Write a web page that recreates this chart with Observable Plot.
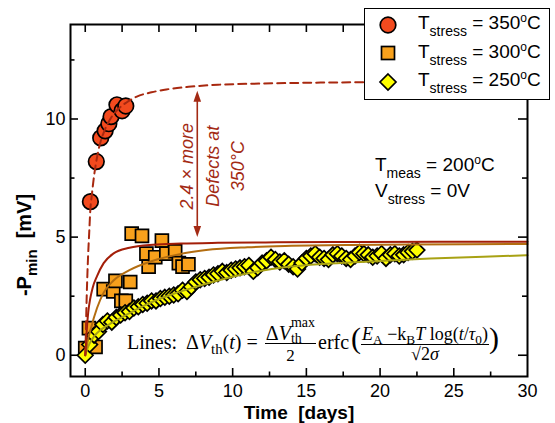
<!DOCTYPE html>
<html>
<head>
<meta charset="utf-8">
<script src="https://cdn.jsdelivr.net/npm/d3@7"></script>
<script src="https://cdn.jsdelivr.net/npm/@observablehq/plot@0.6"></script>
<style>
  body { margin: 0; background: #fff; }
  #wrap { position: relative; width: 555px; height: 423px; font-family: "Liberation Sans", Arial, sans-serif; }
  .ov { position: absolute; white-space: nowrap; color: #000; }
  .txt { font-size: 19px; line-height: 22px; }
  .lsub { font-size: 14px; position: relative; top: 7px; }
  .lsup { font-size: 12px; position: relative; top: -7px; }
  #legendbox { position: absolute; left: 364px; top: 8px; width: 186px; height: 92px; box-sizing: border-box; border: 1.5px solid #000; background: #fff; }
  .sw { position: absolute; width: 20px; height: 20px; }
  #ylab { position: absolute; left: 25px; top: 245px; transform: translate(-50%, -50%) rotate(-90deg); font-weight: bold; font-size: 20px; line-height: 22px; white-space: nowrap; }
  #formula { position: absolute; left: 127px; top: 324px; font-family: "Liberation Serif", "Times New Roman", serif; font-size: 20px; line-height: 20px; white-space: nowrap; }
  #formula .sb { font-size: 0.74em; position: relative; top: 0.3em; }
  #formula .frac { display: inline-block; vertical-align: middle; text-align: center; }
  #formula .num { display: block; border-bottom: 1.5px solid #000; line-height: 19px; height: 19px; padding: 0 1px; }
  #formula .den { display: block; line-height: 19px; height: 19px; }
  #formula .f1 .num { font-size: 20px; }
  #formula .f1 .den { font-size: 17px; padding-top: 2px; }
  #formula .f2 .num { font-size: 18px; }
  #formula .f2 .den { font-size: 18px; }
  #formula .sup2 { font-size: 0.7em; position: relative; top: -0.9em; }
  #formula .sub2 { font-size: 0.7em; position: relative; top: 0.2em; margin-left: -1.722em; margin-right: 0.944em; }
  #formula .par { font-size: 30px; position: relative; top: -1px; }
  #formula .gap { display: inline-block; }
</style>
</head>
<body>
<div id="wrap"></div>
<script>
// ---- Data ----
// T_stress = 350 °C (circles)
const c350_t = [0.35, 0.75, 1.05, 1.35, 1.6, 1.75, 2.15, 2.5, 2.75];
const c350_v = [6.5, 8.2, 9.2, 9.5, 9.8, 10.1, 10.6, 10.35, 10.55];
// T_stress = 300 °C (squares)
const s300_t = [0, 0.25, 0.7, 1.25, 1.9, 2.05, 2.45, 2.75, 3.05, 3.15, 3.85, 4.15, 4.3, 4.75, 5.2, 5.5, 6.1, 6.35, 6.6, 7.0];
const s300_v = [0.3, 1.15, 0.35, 2.8, 2.7, 3.15, 2.3, 2.3, 3.1, 5.15, 5.05, 4.3, 3.75, 4.15, 4.85, 4.3, 4.4, 3.9, 3.75, 3.85];
// T_stress = 250 °C (diamonds)
const d250_t = [0, 0.3, 0.6, 0.9, 1.2, 1.5, 1.8, 2.1, 2.4, 2.7, 3.0, 3.3, 3.6, 3.9, 4.2, 4.5, 4.8, 5.1, 5.4, 5.7,
  6.0, 6.3, 6.6, 6.9, 7.2, 7.5, 7.8, 8.1, 8.4, 8.7, 9.0, 9.3, 9.6, 9.9, 10.2, 10.5, 10.8, 11.1, 11.4, 11.7,
  12.0, 12.3, 12.6, 12.9, 13.2, 13.5, 13.8, 14.1, 14.4, 14.7, 15.0, 15.3, 15.6, 15.9, 16.2, 16.5, 16.8, 17.1, 17.4, 17.7,
  18.0, 18.3, 18.6, 18.9, 19.2, 19.5, 19.8, 20.1, 20.4, 20.7, 21.0, 21.3, 21.6, 21.9, 22.2, 22.5];
const d250_v = [0, 0.45, 0.85, 1.0, 1.3, 1.45, 1.4, 1.6, 1.7, 1.8, 1.85, 2.0, 2.05, 2.15, 2.2, 2.3, 2.3, 2.4, 2.45, 2.5,
  2.55, 2.6, 2.75, 2.7, 2.9, 3.1, 3.2, 3.25, 3.3, 3.4, 3.45, 3.55, 3.5, 3.6, 3.65, 3.7, 3.75, 3.8, 3.55, 3.7,
  3.9, 4.0, 4.15, 4.05, 3.95, 4.0, 3.85, 3.75, 3.65, 3.9, 4.1, 4.2, 4.3, 4.15, 4.1, 4.05, 4.25, 4.3, 4.2, 4.1,
  4.05, 4.2, 4.35, 4.3, 4.25, 4.15, 4.2, 4.3, 4.1, 4.25, 4.3, 4.2, 4.25, 4.35, 4.4, 4.45];
// Fit lines
const fit350_t = [0, 0.02, 0.05, 0.1, 0.15, 0.2, 0.27, 0.35, 0.45, 0.6, 0.75, 1, 1.3, 1.7, 2.2, 2.8, 3.5, 4.5, 5.5, 7, 9, 12, 16, 20, 25, 30];
const fit350_v = [0, 0.35, 1.2, 2.5, 3.5, 4.3, 5.2, 6.2, 6.8, 7.6, 8.2, 8.95, 9.5, 10.0, 10.4, 10.7, 10.95, 11.13, 11.25, 11.36, 11.45, 11.5, 11.54, 11.56, 11.58, 11.59];
const scaled_t = [0, 0.02, 0.05, 0.1, 0.2, 0.34, 0.5, 0.8, 1.25, 1.9, 3, 4.6, 6.5, 9, 13, 18, 24, 30];
const scaled_v = [0, 0.15, 0.5, 1.05, 1.8, 2.4, 2.85, 3.35, 3.9, 4.3, 4.55, 4.68, 4.73, 4.76, 4.78, 4.79, 4.8, 4.8];
const fit300_t = [0, 0.05, 0.15, 0.35, 0.8, 1.25, 1.9, 3, 4.6, 6.4, 8.2, 11, 14, 18, 22, 26, 30];
const fit300_v = [0, 0.2, 0.55, 1.06, 2.0, 2.65, 3.15, 3.6, 4.0, 4.28, 4.45, 4.57, 4.63, 4.67, 4.69, 4.7, 4.71];
const fit250_t = [0, 0.1, 0.3, 0.6, 1, 1.6, 2.4, 3.2, 4, 5, 6, 7.1, 8.5, 10.5, 13.5, 16.6, 20, 23.4, 27, 30];
const fit250_v = [0, 0.2, 0.5, 0.8, 1.05, 1.3, 1.58, 1.85, 2.1, 2.38, 2.6, 2.82, 3.08, 3.4, 3.72, 3.88, 3.99, 4.09, 4.17, 4.23];
// Axis ticks
const xMajor = [0, 5, 10, 15, 20, 25];
const xMinor = [2.5, 7.5, 12.5, 17.5, 22.5, 27.5];
const xLabels = [0, 5, 10, 15, 20, 25, 30];
const yMajor = [0, 5, 10];
const yMinor = [2.5, 7.5, 12.5];
// Annotation
const arrowX = [7.6];
const arrowY = [5.0, 11.2];
const noteText = ["2.4 \u00d7 more\nDefects at\n350\u00b0C"];

// ---- Colors ----
const cCircle = "#f24a1e", cSquare = "#f8a11c", cDiamond = "#ffff00";
const cDash = "#a8280f", cRed = "#a31e08", cBrown = "#b36d10", cOlive = "#a8a214", cNote = "#a32a14";

const W = 555, H = 423, mL = 70, mR = 28, mT = 24, mB = 47;
const fw = W - mL - mR, fh = H - mT - mB;

const diamond = { draw(ctx, size) { const h = Math.sqrt(size / Math.PI); ctx.moveTo(0, -h); ctx.lineTo(h, 0); ctx.lineTo(0, h); ctx.lineTo(-h, 0); ctx.closePath(); } };
const headUp = { draw(ctx) { ctx.moveTo(0, 0); ctx.lineTo(-3.8, 11); ctx.lineTo(3.8, 11); ctx.closePath(); } };
const headDown = { draw(ctx) { ctx.moveTo(0, 0); ctx.lineTo(-3.8, -11); ctx.lineTo(3.8, -11); ctx.closePath(); } };

const chart = Plot.plot({
  width: W, height: H,
  marginLeft: mL, marginRight: mR, marginTop: mT, marginBottom: mB,
  x: { domain: [-1, 30] },
  y: { domain: [-0.9, 14] },
  style: { fontFamily: "'Liberation Sans', Arial, sans-serif", fontSize: "18px", color: "#000", background: "#fff" },
  marks: [
    Plot.axisX(xLabels, { anchor: "bottom", tickSize: 0, tickPadding: 8, label: null }),
    Plot.axisY(yMajor, { anchor: "left", tickSize: 0, tickPadding: 5, label: null }),
    // ticks (inward)
    Plot.tickX(xMajor, { x: d => d, insetTop: fh - 8, stroke: "#000", strokeWidth: 1.6 }),
    Plot.tickX(xMinor, { x: d => d, insetTop: fh - 4.5, stroke: "#000", strokeWidth: 1.6 }),
    Plot.tickX(xMajor.concat(xMinor), { x: d => d, insetBottom: fh - 8, stroke: "#000", strokeWidth: 1.6 }),
    Plot.tickY(yMajor, { y: d => d, insetRight: fw - 8, stroke: "#000", strokeWidth: 1.6 }),
    Plot.tickY(yMinor, { y: d => d, insetRight: fw - 4.5, stroke: "#000", strokeWidth: 1.6 }),
    Plot.tickY(yMajor, { y: d => d, insetLeft: fw - 9, stroke: "#000", strokeWidth: 1.6 }),
    Plot.tickY(yMinor, { y: d => d, insetLeft: fw - 5, stroke: "#000", strokeWidth: 1.6 }),
    // data
    Plot.dot(s300_t, { x: s300_t, y: s300_v, symbol: "square", r: 7.3, fill: cSquare, stroke: "#000", strokeWidth: 1.7 }),
    Plot.dot(d250_t, { x: d250_t, y: d250_v, symbol: diamond, r: 7.8, fill: cDiamond, stroke: "#000", strokeWidth: 1.7 }),
    Plot.dot(c350_t, { x: c350_t, y: c350_v, r: 7.8, fill: cCircle, stroke: "#000", strokeWidth: 1.7 }),
    // fits
    Plot.line(fit250_t, { x: fit250_t, y: fit250_v, stroke: cOlive, strokeWidth: 2, curve: "monotone-x" }),
    Plot.line(fit300_t, { x: fit300_t, y: fit300_v, stroke: cBrown, strokeWidth: 2, curve: "monotone-x" }),
    Plot.line(scaled_t, { x: scaled_t, y: scaled_v, stroke: cRed, strokeWidth: 2, curve: "monotone-x" }),
    Plot.line(fit350_t, { x: fit350_t, y: fit350_v, stroke: cDash, strokeWidth: 2, strokeDasharray: "8,5", curve: "monotone-x" }),
    // annotation arrow
    Plot.ruleX(arrowX, { x: d => d, y1: arrowY[0] + 0.2, y2: arrowY[1] - 0.2, stroke: cNote, strokeWidth: 1.6 }),
    Plot.dot(arrowX, { x: d => d, y: arrowY[1], symbol: headUp, fill: cNote, stroke: "none" }),
    Plot.dot(arrowX, { x: d => d, y: arrowY[0], symbol: headDown, fill: cNote, stroke: "none" }),
    Plot.text(noteText, { x: 8.5, y: 8.0, text: d => d, rotate: -90, fill: cNote, fontSize: 18, fontStyle: "italic", lineHeight: 1.4, textAnchor: "middle", lineAnchor: "middle" }),
    // x label
    Plot.text(["Time\u00a0\u00a0[days]"], { frameAnchor: "bottom", text: d => d, dy: 36, fontWeight: "bold", fontSize: 19, lineAnchor: "middle" }),
    Plot.frame({ stroke: "#000", strokeWidth: 2 })
  ]
});

const wrap = document.getElementById("wrap");
wrap.appendChild(chart);

function addHTML(html) { wrap.insertAdjacentHTML("beforeend", html); }

// y label
addHTML(`<div id="ylab">-P<span class="lsub" style="font-size:15px;top:6px">min</span>&nbsp;&nbsp;[mV]</div>`);

// measurement conditions
addHTML(`<div class="ov txt" style="left:375px;top:154px">T<span class="lsub">meas</span> = 200<span class="lsup">o</span>C</div>`);
addHTML(`<div class="ov txt" style="left:375px;top:180px">V<span class="lsub">stress</span> = 0V</div>`);

// legend
const legendRows = [
  { label: "350", shape: `<circle cx="10" cy="10" r="7.8" fill="${cCircle}" stroke="#000" stroke-width="1.7"/>` },
  { label: "300", shape: `<rect x="3.5" y="3.5" width="13" height="13" fill="${cSquare}" stroke="#000" stroke-width="1.7"/>` },
  { label: "250", shape: `<path d="M10,2L18,10L10,18L2,10Z" fill="${cDiamond}" stroke="#000" stroke-width="1.7"/>` }
];
addHTML(`<div id="legendbox"></div>`);
legendRows.forEach((r, i) => {
  const cy = 25 + i * 28.3;
  const base = 30 + i * 28.3;
  addHTML(`<svg class="sw" style="left:${388 - 10}px;top:${cy - 10}px" width="20" height="20">${r.shape}</svg>`);
  addHTML(`<div class="ov txt" style="left:418px;top:${base - 17.6}px">T<span class="lsub">stress</span> = ${r.label}<span class="lsup">o</span>C</div>`);
});

// formula
addHTML(`<div id="formula">Lines:<span class="gap" style="width:9px"></span>Δ<i>V</i><span class="sb">th</span>(<i>t</i>)<span class="gap" style="width:5px"></span>=<span class="gap" style="width:7px"></span><span class="frac f1"><span class="num">Δ<i>V</i><span class="sup2">max</span><span class="sub2">th</span></span><span class="den">2</span></span><span class="gap" style="width:2px"></span>erfc<span class="gap" style="width:2px"></span><span class="par">(</span><span class="frac f2"><span class="num"><i>E</i><span class="sb">A</span> −k<span class="sb">B</span><i>T</i> log(<i>t</i>/<i>τ</i><span class="sb">0</span>)</span><span class="den">√2<i>σ</i></span></span><span class="par">)</span></div>`);
</script>
</body>
</html>
